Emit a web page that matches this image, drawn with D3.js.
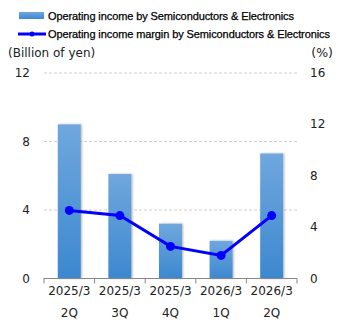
<!DOCTYPE html>
<html>
<head>
<meta charset="utf-8">
<script src="https://cdn.jsdelivr.net/npm/d3@7"></script>
<style>
  body { margin: 0; background: #fff; }
  text { font-family: Tahoma, "DejaVu Sans", sans-serif; }
  .legend { font-family: "Liberation Sans", Arial, sans-serif; }
</style>
</head>
<body>
<div id="chart-area"></div>
<script>
let width = 345,
    height = 330;

// data
let periods = ["2025/3", "2025/3", "2025/3", "2026/3", "2026/3"];
let quarters = ["2Q", "3Q", "4Q", "1Q", "2Q"];
let income = [9.0, 6.1, 3.2, 2.2, 7.3];
let margin = [5.3, 4.9, 2.5, 1.8, 4.9];
let leftTicks = [0, 4, 8, 12];
let rightTicks = [0, 4, 8, 12, 16];

let plot = {left: 44, right: 297, top: 73, bottom: 278.5};

let svg = d3.select("#chart-area").append("svg")
    .attr("width", width)
    .attr("height", height);

let defs = svg.append("defs");
let grad = defs.append("linearGradient")
    .attr("id", "barGrad")
    .attr("x1", 0).attr("y1", 0).attr("x2", 0).attr("y2", 1);
grad.append("stop").attr("offset", "0%").attr("stop-color", "#70a7dd");
grad.append("stop").attr("offset", "100%").attr("stop-color", "#3c88cf");

let shadow = defs.append("filter").attr("id", "shadow")
    .attr("x", "-30%").attr("width", "160%");
shadow.append("feDropShadow")
    .attr("dx", 1).attr("dy", 0).attr("stdDeviation", 1.3)
    .attr("flood-color", "#000").attr("flood-opacity", 0.3);

let x = d3.scaleBand()
    .domain(d3.range(income.length))
    .range([plot.left, plot.right]);

let y = d3.scaleLinear().domain([0, 12]).range([plot.bottom, plot.top]);
let y2 = d3.scaleLinear().domain([0, 16]).range([plot.bottom, plot.top]);

// gridlines
svg.selectAll(".grid")
    .data(leftTicks.filter(d => d > 0))
    .enter().append("line")
    .attr("x1", plot.left).attr("x2", plot.right)
    .attr("y1", d => y(d)).attr("y2", d => y(d))
    .style("stroke", "#d0d0d0")
    .style("stroke-dasharray", "3,2")
    .style("stroke-width", 1);

// bars
let barW = 23;
svg.selectAll(".bar")
    .data(income)
    .enter().append("rect")
    .attr("class", "bar")
    .attr("x", (d, i) => x(i) + x.bandwidth() / 2 - barW / 2)
    .attr("y", d => y(d))
    .attr("width", barW)
    .attr("height", d => y(0) - y(d))
    .attr("fill", "url(#barGrad)")
    .attr("filter", "url(#shadow)");

// x axis
let xAxis = svg.append("g");
xAxis.append("line")
    .attr("x1", plot.left).attr("x2", plot.right)
    .attr("y1", plot.bottom).attr("y2", plot.bottom)
    .style("stroke", "#888").style("stroke-width", 1);
xAxis.selectAll(".tick")
    .data(d3.range(income.length + 1))
    .enter().append("line")
    .attr("x1", i => plot.left + i * x.bandwidth())
    .attr("x2", i => plot.left + i * x.bandwidth())
    .attr("y1", plot.bottom - 0.5).attr("y2", plot.bottom + 5)
    .style("stroke", "#888").style("stroke-width", 1);

svg.selectAll(".period")
    .data(periods)
    .enter().append("text")
    .attr("x", (d, i) => x(i) + x.bandwidth() / 2)
    .attr("y", 295)
    .attr("text-anchor", "middle")
    .style("font-size", "12px")
    .style("fill", "#222")
    .text(d => d);

svg.selectAll(".quarter")
    .data(quarters)
    .enter().append("text")
    .attr("x", (d, i) => x(i) + x.bandwidth() / 2)
    .attr("y", 317)
    .attr("text-anchor", "middle")
    .style("font-size", "12px")
    .style("fill", "#222")
    .text(d => d);

// y axis labels
svg.selectAll(".ly")
    .data(leftTicks)
    .enter().append("text")
    .attr("x", 30)
    .attr("y", d => y(d) + 4)
    .attr("text-anchor", "end")
    .style("font-size", "12px")
    .style("fill", "#222")
    .text(d => d);

svg.selectAll(".ry")
    .data(rightTicks)
    .enter().append("text")
    .attr("x", 310)
    .attr("y", d => y2(d) + 4)
    .style("font-size", "12px")
    .style("fill", "#222")
    .text(d => d);

svg.append("text")
    .attr("x", 8).attr("y", 57)
    .style("font-size", "12px").style("fill", "#222")
    .text("(Billion of yen)");
svg.append("text")
    .attr("x", 333).attr("y", 57)
    .attr("text-anchor", "end")
    .style("font-size", "12.5px").style("fill", "#222")
    .text("(%)");

// margin line
let line = d3.line()
    .x((d, i) => x(i) + x.bandwidth() / 2)
    .y(d => y2(d));

svg.append("path")
    .datum(margin)
    .attr("d", line)
    .style("fill", "none")
    .style("stroke", "#0000ff")
    .style("stroke-width", 3);

svg.selectAll(".dot")
    .data(margin)
    .enter().append("circle")
    .attr("cx", (d, i) => x(i) + x.bandwidth() / 2)
    .attr("cy", d => y2(d))
    .attr("r", 4.5)
    .attr("fill", "#0000ff");

// legend
svg.append("rect")
    .attr("x", 19).attr("y", 12).attr("width", 25).attr("height", 7)
    .attr("fill", "url(#barGrad)");
svg.append("text")
    .attr("class", "legend")
    .attr("x", 48).attr("y", 20)
    .style("font-size", "11px").style("letter-spacing", "-0.1px")
    .style("fill", "#000").style("stroke", "#000").style("stroke-width", 0.25)
    .text("Operating income by Semiconductors & Electronics");

svg.append("line")
    .attr("x1", 18).attr("x2", 46).attr("y1", 34).attr("y2", 34)
    .style("stroke", "#0000ff").style("stroke-width", 3);
svg.append("circle")
    .attr("cx", 32).attr("cy", 34).attr("r", 2.5).attr("fill", "#0000ff");
svg.append("text")
    .attr("class", "legend")
    .attr("x", 48).attr("y", 38)
    .style("font-size", "11px").style("letter-spacing", "-0.1px")
    .style("fill", "#000").style("stroke", "#000").style("stroke-width", 0.25)
    .text("Operating income margin by Semiconductors & Electronics");
</script>
</body>
</html>
